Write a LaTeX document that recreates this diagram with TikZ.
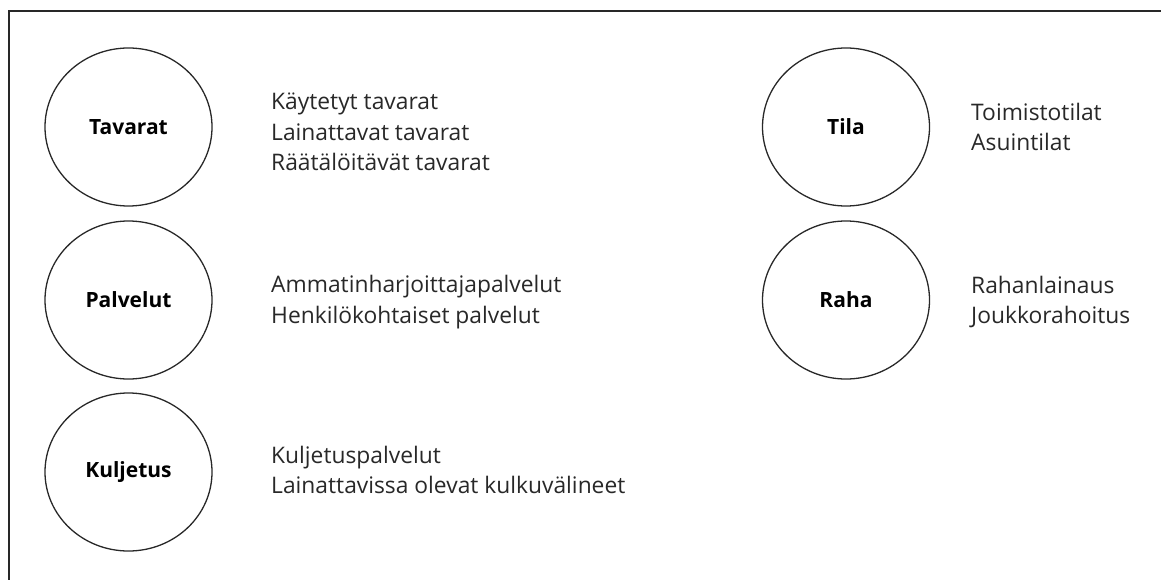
\documentclass[tikz,border=0pt]{standalone}
\usepackage{fontspec}
\setmainfont{Open Sans}
\usetikzlibrary{shapes.geometric}
\definecolor{tumma}{RGB}{40,40,40}
\tikzset{
  teema/.style={ellipse, draw=tumma, line width=1.3pt, inner sep=0pt,
    minimum width=167pt, minimum height=158pt, font=\fontsize{21}{25}\selectfont\bfseries},
  lista/.style={anchor=west, align=left, text=tumma, inner sep=0pt,
    font=\fontsize{22.8}{30.5}\selectfont}
}
\begin{document}
\begin{tikzpicture}[x=1pt,y=-1pt]
            \useasboundingbox (0,0) rectangle (1161,580);
            \draw[tumma, line width=1.6pt] (1161,11)--(9,11)--(9,580);
            % vasen sarake
            \node[teema] (tavarat) at (128.5,127){Tavarat};
            \node[teema] (palvelut) at (128.5,300){Palvelut};
            \node[teema] (kuljetus) at (128.5,472){Kuljetus};
            \node[lista] (tavaratlista) at (271,132){Käytetyt tavarat\\Lainattavat tavarat\\Räätälöitävät tavarat};
            \node[lista] (palvelutlista) at (271,302){Ammatinharjoittajapalvelut\\Henkilökohtaiset palvelut};
            \node[lista] (kuljetuslista) at (271,470){Kuljetuspalvelut\\Lainattavissa olevat kulkuvälineet};
            % oikea sarake
            \node[teema] (tila) at (846,127){Tila};
            \node[teema] (raha) at (846,300){Raha};
            \node[lista] (tilalista) at (971,127){Toimistotilat\\Asuintilat};
            \node[lista] (rahalista) at (971,302){Rahanlainaus\\Joukkorahoitus};
        \end{tikzpicture}
\end{document}
